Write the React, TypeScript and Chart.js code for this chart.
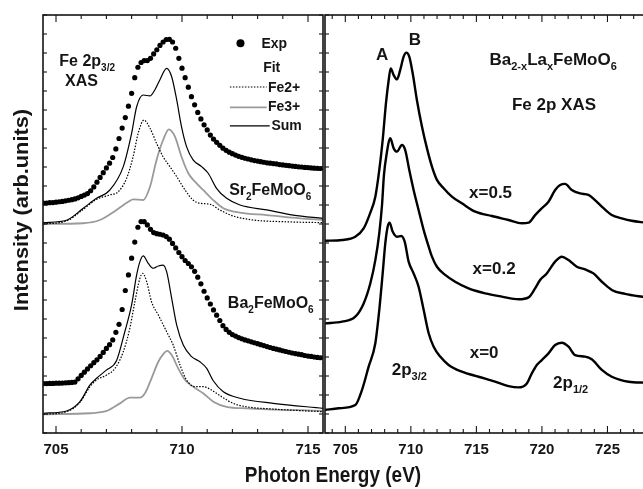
import React, { useEffect, useRef } from 'react';
import { Chart, registerables } from 'chart.js';

Chart.register(...registerables);

const FAMILY = '"Liberation Sans", Arial, Helvetica, sans-serif';
const INK = '#151515';
const GREY = '#9a9a9a';

// ---------- Left panel: Fe 2p3/2 XAS with fits ----------
const expEnergy = [
  704.5, 704.625, 704.75, 704.875,
  705, 705.125, 705.25, 705.375, 705.5, 705.625, 705.75, 705.875,
  706, 706.125, 706.25, 706.375, 706.5, 706.625, 706.75, 706.875,
  707, 707.125, 707.25, 707.375, 707.5, 707.625, 707.75, 707.875,
  708, 708.125, 708.25, 708.375, 708.5, 708.625, 708.75, 708.875,
  709, 709.125, 709.25, 709.375, 709.5, 709.625, 709.75, 709.875,
  710, 710.125, 710.25, 710.375, 710.5, 710.625, 710.75, 710.875,
  711, 711.125, 711.25, 711.375, 711.5, 711.625, 711.75, 711.875,
  712, 712.125, 712.25, 712.375, 712.5, 712.625, 712.75, 712.875,
  713, 713.125, 713.25, 713.375, 713.5, 713.625, 713.75, 713.875,
  714, 714.125, 714.25, 714.375, 714.5, 714.625, 714.75, 714.875,
  715, 715.125, 715.25, 715.375, 715.5,
];

const sr2Exp = [
  12.1, 12.1, 12.12, 12.13,
  12.15, 12.17, 12.19, 12.22, 12.25, 12.28, 12.32, 12.38,
  12.45, 12.52, 12.6, 12.75, 12.95, 13.2, 13.45, 13.7,
  13.95, 14.2, 14.5, 14.95, 15.5, 16.05, 16.6, 17.2,
  17.88, 18.7, 19.25, 19.5, 19.6, 19.6, 19.72, 19.95,
  20.17, 20.4, 20.58, 20.71, 20.72, 20.58, 20.25, 19.72,
  19.2, 18.7, 18.2, 17.7, 17.27, 16.87, 16.53, 16.22,
  15.95, 15.68, 15.47, 15.3, 15.14, 14.99, 14.88, 14.78,
  14.7, 14.63, 14.56, 14.51, 14.46, 14.42, 14.38, 14.34,
  14.31, 14.28, 14.25, 14.22, 14.2, 14.18, 14.16, 14.13,
  14.11, 14.09, 14.07, 14.05, 14.03, 14.01, 14.0, 13.98,
  13.97, 13.95, 13.94, 13.93, 13.92,
];

const ba2Exp = [
  2.6, 2.6, 2.61, 2.61,
  2.62, 2.62, 2.63, 2.64, 2.65, 2.66, 2.68, 2.85,
  3.03, 3.2, 3.37, 3.54, 3.7, 3.85, 4.03, 4.24,
  4.45, 4.65, 4.9, 5.3, 5.72, 6.5, 7.5, 8.32,
  9.2, 10.05, 10.83, 11.13, 11.12, 10.95, 10.72, 10.55,
  10.49, 10.46, 10.42, 10.34, 10.2, 9.98, 9.74, 9.5,
  9.28, 9.08, 8.92, 8.75, 8.51, 8.2, 7.85, 7.46,
  7.11, 6.79, 6.48, 6.2, 5.92, 5.65, 5.45, 5.3,
  5.18, 5.1, 5.02, 4.96, 4.9, 4.85, 4.8, 4.75,
  4.7, 4.65, 4.6, 4.55, 4.5, 4.45, 4.41, 4.37,
  4.33, 4.29, 4.25, 4.21, 4.18, 4.15, 4.12, 4.08,
  4.05, 4.03, 4.0, 3.98, 3.96,
];

const sr2SumEnergy = [704.5, 705.42, 706.08, 706.61, 707.14, 707.67, 708.0, 708.2, 708.46, 708.73, 708.92, 709.12, 709.39, 709.59, 709.79, 709.98, 710.18, 710.44, 710.78, 711.04, 711.37, 711.77, 712.3, 713.36, 714.41, 715.6];
const sr2SumValue = [11.07, 11.2, 11.83, 12.35, 12.79, 14.02, 15.77, 17.17, 17.79, 17.74, 18.05, 18.58, 19.19, 18.75, 17.53, 16.12, 15.07, 14.37, 14.02, 13.67, 12.88, 12.35, 12.0, 11.74, 11.47, 11.3];

const sr2Fe2Energy = [704.5, 705.42, 706.08, 706.61, 707.14, 707.47, 707.8, 708.06, 708.26, 708.49, 708.73, 708.99, 709.25, 709.52, 709.79, 710.12, 710.44, 710.71, 711.11, 711.5, 712.03, 712.83, 714.02, 715.6];
const sr2Fe2Value = [11.0, 11.16, 11.77, 12.3, 12.53, 12.7, 13.4, 14.54, 15.77, 16.47, 16.04, 15.25, 14.54, 14.02, 13.49, 12.79, 12.26, 12.09, 12.04, 11.74, 11.42, 11.21, 11.12, 11.07];

const sr2Fe3Energy = [704.5, 706.08, 706.74, 707.4, 707.87, 708.06, 708.46, 708.73, 708.99, 709.25, 709.48, 709.72, 709.98, 710.25, 710.58, 710.84, 711.24, 711.64, 712.3, 713.36, 714.68, 715.6];
const sr2Fe3Value = [11.0, 11.04, 11.21, 11.74, 12.17, 12.3, 12.26, 12.96, 14.37, 15.42, 15.98, 15.6, 14.54, 13.67, 13.14, 12.79, 12.26, 11.83, 11.6, 11.47, 11.3, 11.21];

const ba2SumEnergy = [704.5, 705.42, 705.95, 706.35, 706.61, 707.01, 707.4, 707.73, 708.0, 708.2, 708.33, 708.46, 708.66, 708.86, 709.06, 709.25, 709.39, 709.59, 709.79, 710.05, 710.38, 710.71, 710.98, 711.24, 711.64, 712.3, 713.62, 715.6];
const ba2SumValue = [1.04, 1.16, 1.65, 2.53, 2.88, 3.32, 3.8, 5.33, 6.74, 8.32, 9.02, 9.32, 8.93, 8.67, 8.79, 8.84, 8.49, 7.09, 5.68, 4.63, 4.02, 3.75, 3.4, 2.75, 2.17, 1.83, 1.56, 1.3];

const ba2Fe2Energy = [704.5, 705.42, 705.95, 706.35, 706.61, 707.01, 707.34, 707.67, 707.93, 708.13, 708.33, 708.44, 708.6, 708.79, 709.06, 709.39, 709.65, 709.92, 710.18, 710.51, 710.84, 711.17, 711.57, 712.03, 712.56, 713.62, 715.6];
const ba2Fe2Value = [0.98, 1.12, 1.61, 2.44, 2.79, 3.05, 3.4, 4.28, 5.51, 6.91, 8.14, 8.4, 7.96, 6.91, 6.21, 5.33, 4.63, 3.58, 2.79, 2.44, 2.44, 2.26, 1.91, 1.56, 1.38, 1.26, 1.12];

const ba2Fe3Energy = [704.5, 706.35, 707.01, 707.54, 707.93, 708.33, 708.53, 708.79, 709.06, 709.28, 709.41, 709.59, 709.85, 710.12, 710.44, 710.84, 711.24, 711.77, 712.56, 715.6];
const ba2Fe3Value = [0.98, 1.04, 1.16, 1.56, 1.86, 1.86, 2.09, 2.88, 3.75, 4.19, 4.32, 4.1, 3.4, 2.79, 2.44, 2.09, 1.65, 1.38, 1.3, 1.16];

// ---------- Right panel: Ba(2-x)La(x)FeMoO6 ----------
const x05Energy = [703.45, 704.75, 705.76, 706.4, 706.91, 707.29, 707.59, 707.85, 708.1, 708.31, 708.46, 708.69, 708.94, 709.19, 709.45, 709.65, 709.88, 710.14, 710.46, 710.85, 711.23, 711.61, 711.99, 712.5, 713.13, 713.89, 714.91, 716.18, 717.45, 718.47, 718.98, 719.48, 719.99, 720.5, 721.01, 721.39, 721.77, 722.28, 722.91, 723.55, 724.05, 724.7, 725.33, 726.09, 726.85, 727.9];
const x05Value = [10.12, 10.16, 10.33, 10.77, 11.6, 12.44, 13.84, 15.42, 17.35, 18.58, 19.19, 18.84, 18.61, 19.11, 19.81, 20.02, 19.81, 18.93, 17.53, 16.12, 14.98, 14.02, 13.32, 12.88, 12.44, 12.09, 11.65, 11.42, 11.21, 11.04, 11.07, 11.47, 11.83, 12.17, 12.79, 13.05, 13.11, 12.79, 12.61, 12.53, 12.26, 11.83, 11.47, 11.3, 11.17, 11.07];

const x02Energy = [703.45, 704.75, 705.76, 706.4, 706.91, 707.29, 707.59, 707.8, 707.95, 708.18, 708.31, 708.43, 708.69, 708.94, 709.32, 709.57, 709.88, 710.21, 710.59, 710.98, 711.36, 711.61, 711.99, 712.62, 713.38, 714.4, 715.67, 716.94, 718.22, 718.98, 719.48, 719.86, 720.37, 721.01, 721.52, 722.03, 722.66, 723.29, 723.93, 724.57, 725.33, 726.34, 727.9];
const x02Value = [5.77, 5.86, 6.12, 6.82, 7.88, 9.1, 10.51, 12.0, 13.6, 14.8, 15.3, 15.51, 14.98, 14.81, 15.16, 14.89, 13.84, 12.79, 11.74, 10.68, 9.81, 9.28, 8.75, 8.32, 7.96, 7.61, 7.35, 7.18, 7.04, 7.14, 7.61, 8.05, 8.4, 9.02, 9.28, 9.1, 8.75, 8.61, 8.4, 7.96, 7.53, 7.32, 7.14];

const x00Energy = [703.45, 704.5, 705.76, 706.27, 706.78, 707.29, 707.59, 707.85, 708.05, 708.23, 708.38, 708.61, 708.94, 709.27, 709.53, 709.83, 710.21, 710.59, 710.98, 711.36, 711.74, 712.24, 712.88, 713.89, 715.17, 716.43, 717.45, 718.22, 718.85, 719.23, 719.61, 719.99, 720.5, 721.01, 721.52, 722.03, 722.53, 723.29, 723.8, 724.57, 725.33, 726.6, 727.9];
const x00Value = [1.21, 1.3, 1.47, 2.26, 3.49, 4.72, 6.47, 8.4, 9.98, 10.86, 11.07, 10.6, 10.33, 10.37, 10.07, 9.02, 8.4, 7.7, 6.47, 5.25, 4.54, 4.02, 3.58, 3.23, 2.96, 2.7, 2.47, 2.4, 2.61, 3.14, 3.58, 3.84, 4.19, 4.63, 4.75, 4.54, 4.1, 4.02, 3.88, 3.32, 2.96, 2.7, 2.65];

// ---------- Ticks ----------
const leftMajorTicks = [705, 710, 715];
const leftMinorTicks = [705, 706, 707, 708, 709, 710, 711, 712, 713, 714, 715];
const rightMajorTicks = [705, 710, 715, 720, 725];
const rightMinorTicks = [704, 705, 706, 707, 708, 709, 710, 711, 712, 713, 714, 715, 716, 717, 718, 719, 720, 721, 722, 723, 724, 725, 726, 727, 728, 729];
const yTicks = [0, 1, 2, 3, 4, 5, 6, 7, 8, 9, 10, 11, 12, 13, 14, 15, 16, 17, 18, 19, 20, 21, 22];

type Part = { t: string; sub?: boolean };
type Label = { parts: Part[]; e: number; v: number; size: number; align?: 'left' | 'center' };

const leftLabels: Label[] = [
  { parts: [{ t: 'Fe 2p' }, { t: '3/2', sub: true }], e: 705.13, v: 19.3, size: 16 },
  { parts: [{ t: 'XAS' }], e: 705.36, v: 18.24, size: 16 },
  { parts: [{ t: 'Exp' }], e: 713.15, v: 20.26, size: 14 },
  { parts: [{ t: 'Fit' }], e: 713.22, v: 19.02, size: 14 },
  { parts: [{ t: 'Fe2+' }], e: 713.41, v: 17.96, size: 14 },
  { parts: [{ t: 'Fe3+' }], e: 713.41, v: 16.96, size: 14 },
  { parts: [{ t: 'Sum' }], e: 713.55, v: 15.95, size: 14 },
  { parts: [{ t: 'Sr' }, { t: '2', sub: true }, { t: 'FeMoO' }, { t: '6', sub: true }], e: 711.87, v: 12.53, size: 16 },
  { parts: [{ t: 'Ba' }, { t: '2', sub: true }, { t: 'FeMoO' }, { t: '6', sub: true }], e: 711.82, v: 6.58, size: 16 },
];

const rightLabels: Label[] = [
  { parts: [{ t: 'A' }], e: 707.8, v: 19.63, size: 17, align: 'center' },
  { parts: [{ t: 'B' }], e: 710.31, v: 20.42, size: 17, align: 'center' },
  { parts: [{ t: 'Ba' }, { t: '2-x', sub: true }, { t: 'La' }, { t: 'x', sub: true }, { t: 'FeMoO' }, { t: '6', sub: true }], e: 716.0, v: 19.37, size: 17 },
  { parts: [{ t: 'Fe 2p XAS' }], e: 720.92, v: 17.0, size: 17, align: 'center' },
  { parts: [{ t: 'x=0.5' }], e: 716.08, v: 12.37, size: 17, align: 'center' },
  { parts: [{ t: 'x=0.2' }], e: 716.35, v: 8.37, size: 17, align: 'center' },
  { parts: [{ t: 'x=0' }], e: 715.59, v: 3.95, size: 17, align: 'center' },
  { parts: [{ t: '2p' }, { t: '3/2', sub: true }], e: 708.54, v: 3.05, size: 17 },
  { parts: [{ t: '2p' }, { t: '1/2', sub: true }], e: 720.85, v: 2.37, size: 17 },
];

function drawRich(ctx: CanvasRenderingContext2D, parts: Part[], x: number, y: number, size: number, align: 'left' | 'center' = 'left') {
  const main = `bold ${size}px ${FAMILY}`;
  const subSize = Math.round(size * 0.62);
  const sub = `bold ${subSize}px ${FAMILY}`;
  let w = 0;
  for (const p of parts) {
    ctx.font = p.sub ? sub : main;
    w += ctx.measureText(p.t).width;
  }
  let cx = align === 'center' ? x - w / 2 : x;
  ctx.textAlign = 'left';
  ctx.textBaseline = 'alphabetic';
  ctx.fillStyle = INK;
  for (const p of parts) {
    ctx.font = p.sub ? sub : main;
    ctx.fillText(p.t, cx, p.sub ? y + size * 0.3 : y);
    cx += ctx.measureText(p.t).width;
  }
}

function pts(xs: number[], ys: number[]) {
  return xs.map((x, i) => ({ x, y: ys[i] }));
}

function seg(ctx: CanvasRenderingContext2D, x1: number, y1: number, x2: number, y2: number) {
  ctx.beginPath();
  ctx.moveTo(x1, y1);
  ctx.lineTo(x2, y2);
  ctx.stroke();
}

function framePlugin(cfg: { minor: number[]; major: number[]; rightTicks: boolean; labels: Label[]; extra?: (chart: any) => void }) {
  return {
    id: 'frameAndText',
    afterDraw(chart: any) {
      const { ctx, chartArea: a, scales } = chart;
      const sx = scales.x;
      const sy = scales.y;
      ctx.save();
      ctx.strokeStyle = INK;
      ctx.lineWidth = 1.6;
      ctx.strokeRect(a.left, a.top, a.right - a.left, a.bottom - a.top);
      ctx.lineWidth = 1.1;
      for (const t of cfg.minor) {
        const px = sx.getPixelForValue(t);
        if (px < a.left || px > a.right) continue;
        const len = cfg.major.includes(t) ? 7 : 4;
        seg(ctx, px, a.bottom, px, a.bottom - len);
        seg(ctx, px, a.top, px, a.top + len);
      }
      for (const t of yTicks) {
        const py = sy.getPixelForValue(t);
        seg(ctx, a.left, py, a.left + 4, py);
        if (cfg.rightTicks) seg(ctx, a.right, py, a.right - 4, py);
      }
      for (const l of cfg.labels) {
        drawRich(ctx, l.parts, sx.getPixelForValue(l.e), sy.getPixelForValue(l.v), l.size, l.align || 'left');
      }
      if (cfg.extra) cfg.extra(chart);
      ctx.restore();
    },
  };
}

function leftExtra(chart: any) {
  const { ctx, scales } = chart;
  const sx = scales.x;
  const sy = scales.y;
  // legend samples
  ctx.fillStyle = '#000';
  ctx.beginPath();
  ctx.arc(sx.getPixelForValue(712.32), sy.getPixelForValue(20.51), 4, 0, Math.PI * 2);
  ctx.fill();
  ctx.strokeStyle = '#000';
  ctx.lineWidth = 1.2;
  ctx.setLineDash([1.5, 1.5]);
  seg(ctx, sx.getPixelForValue(711.9), sy.getPixelForValue(18.21), sx.getPixelForValue(713.36), sy.getPixelForValue(18.21));
  ctx.setLineDash([]);
  ctx.strokeStyle = GREY;
  ctx.lineWidth = 1.8;
  seg(ctx, sx.getPixelForValue(711.9), sy.getPixelForValue(17.14), sx.getPixelForValue(713.36), sy.getPixelForValue(17.14));
  ctx.strokeStyle = '#000';
  ctx.lineWidth = 1.2;
  seg(ctx, sx.getPixelForValue(711.9), sy.getPixelForValue(16.16), sx.getPixelForValue(713.48), sy.getPixelForValue(16.16));
  // axis titles
  ctx.fillStyle = INK;
  ctx.textAlign = 'center';
  ctx.textBaseline = 'alphabetic';
  ctx.save();
  ctx.translate(333, 482);
  ctx.scale(1, 1.2);
  ctx.font = `bold 19px ${FAMILY}`;
  ctx.fillText('Photon Energy (eV)', 0, 0);
  ctx.restore();
  ctx.save();
  ctx.translate(28, 210);
  ctx.rotate(-Math.PI / 2);
  ctx.scale(1.09, 1);
  ctx.font = `bold 20px ${FAMILY}`;
  ctx.fillText('Intensity (arb.units)', 0, 0);
  ctx.restore();
}

const tickFont = { family: FAMILY, size: 15, weight: 'bold' as const };

function xScale(min: number, max: number, majors: number[]) {
  return {
    type: 'linear' as const,
    min,
    max,
    afterBuildTicks: (s: any) => {
      s.ticks = majors.map((v) => ({ value: v }));
    },
    afterFit: (s: any) => {
      s.height = 40;
    },
    grid: { display: false, drawTicks: false },
    border: { display: false },
    ticks: { font: tickFont, color: INK, padding: 8, maxRotation: 0, autoSkip: false, callback: (v: any) => String(v) },
  };
}

const commonOpts = {
  animation: false as const,
  responsive: false,
  maintainAspectRatio: false,
  devicePixelRatio: 1,
  events: [] as any[],
  plugins: { legend: { display: false }, tooltip: { enabled: false } },
};

export default function App() {
  const leftRef = useRef<HTMLCanvasElement | null>(null);
  const rightRef = useRef<HTMLCanvasElement | null>(null);

  useEffect(() => {
    const dot = (d: { x: number; y: number }[]) => ({
      data: d,
      showLine: false,
      pointRadius: 2.6,
      pointBackgroundColor: '#000',
      pointBorderWidth: 0,
      borderColor: '#000',
    });
    const line = (d: { x: number; y: number }[], color: string, width: number, dash: number[] = []) => ({
      data: d,
      borderColor: color,
      borderWidth: width,
      borderDash: dash,
      pointRadius: 0,
      cubicInterpolationMode: 'monotone' as const,
      fill: false,
    });

    const left = new Chart(leftRef.current as HTMLCanvasElement, {
      type: 'line',
      data: {
        datasets: [
          dot(pts(expEnergy, sr2Exp)),
          dot(pts(expEnergy, ba2Exp)),
          line(pts(sr2SumEnergy, sr2SumValue), '#000', 1.2),
          line(pts(ba2SumEnergy, ba2SumValue), '#000', 1.2),
          line(pts(sr2Fe2Energy, sr2Fe2Value), '#000', 1.2, [1.5, 1.5]),
          line(pts(ba2Fe2Energy, ba2Fe2Value), '#000', 1.2, [1.5, 1.5]),
          line(pts(sr2Fe3Energy, sr2Fe3Value), GREY, 1.8),
          line(pts(ba2Fe3Energy, ba2Fe3Value), GREY, 1.8),
        ] as any,
      },
      options: {
        ...commonOpts,
        layout: { padding: { left: 43, right: 320, top: 15, bottom: 16 } },
        scales: {
          x: xScale(704.484, 715.595, leftMajorTicks) as any,
          y: { type: 'linear', display: false, min: 0, max: 22 },
        },
      } as any,
      plugins: [framePlugin({ minor: leftMinorTicks, major: leftMajorTicks, rightTicks: true, labels: leftLabels, extra: leftExtra })],
    });

    const right = new Chart(rightRef.current as HTMLCanvasElement, {
      type: 'line',
      data: {
        datasets: [
          line(pts(x05Energy, x05Value), '#000', 2.4),
          line(pts(x02Energy, x02Value), '#000', 2.4),
          line(pts(x00Energy, x00Value), '#000', 2.4),
        ] as any,
      },
      options: {
        ...commonOpts,
        layout: { padding: { left: 325, right: 27, top: 15, bottom: 16 } },
        scales: {
          x: xScale(703.45, 730.0, rightMajorTicks) as any,
          y: { type: 'linear', display: false, min: 0, max: 22 },
        },
      } as any,
      plugins: [framePlugin({ minor: rightMinorTicks, major: rightMajorTicks, rightTicks: false, labels: rightLabels })],
    });

    return () => {
      left.destroy();
      right.destroy();
    };
  }, []);

  return (
    <div style={{ position: 'absolute', left: 0, top: 0, width: 643, height: 489, overflow: 'hidden', background: '#fff' }}>
      <canvas ref={leftRef} width={643} height={489} style={{ position: 'absolute', left: 0, top: 0 }} />
      <canvas ref={rightRef} width={700} height={489} style={{ position: 'absolute', left: 0, top: 0 }} />
    </div>
  );
}
